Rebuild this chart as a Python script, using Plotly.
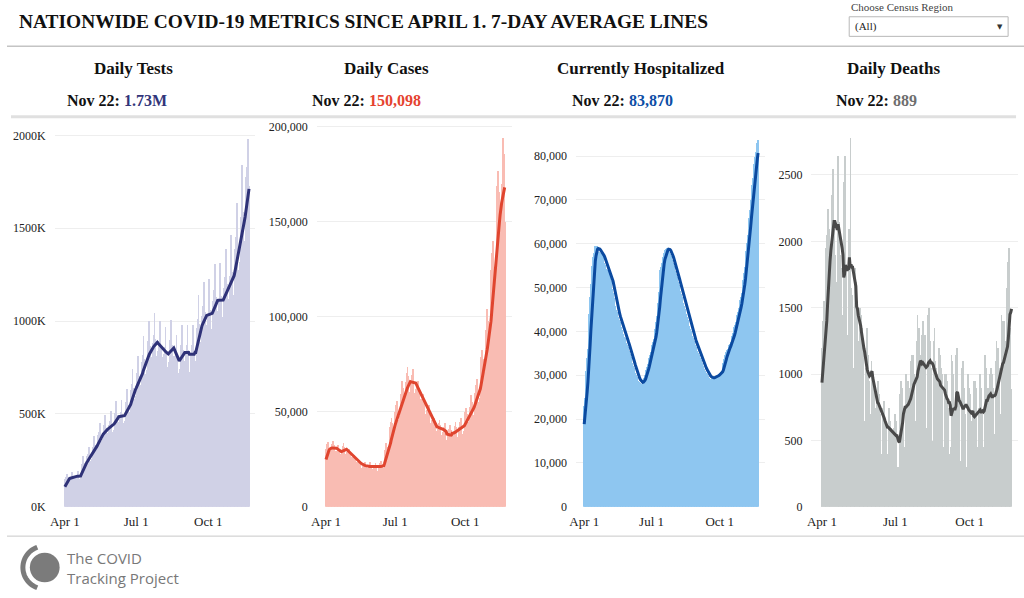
import math
import pandas as pd
import plotly.graph_objects as go

# ---------------- data (daily values) ----------------
PRE_START = "2020-03-26"   # 6 extra days so the 7-day average exists on Apr 1
START = "2020-04-01"
TICK_DATES = ["2020-04-01", "2020-07-01", "2020-10-01"]
TICK_LABELS = ["Apr 1", "Jul 1", "Oct 1"]

# Daily tests (thousands)
tests_pre = [105, 118, 102, 88, 92, 95]
tests_apr = [152, 160, 179, 155, 134, 140, 144, 163, 171, 192, 166, 143, 150, 155,
             165, 173, 195, 168, 145, 152, 157, 233, 245, 275, 238, 205, 214, 221,
             273, 287]
tests_may = [322, 278, 240, 251, 259, 326, 342, 385, 333, 287, 300, 310,
             386, 405, 455, 394, 340, 355, 367, 419, 440, 494, 427, 369, 385, 398,
             440, 462, 519, 449, 387]
tests_jun = [405, 418, 485, 509, 572, 495, 427, 446, 461, 490, 515, 578, 500, 431,
             451, 466, 538, 565, 635, 549, 473, 495, 511, 630, 662, 743, 643, 554,
             580, 599]
tests_jul = [690, 725, 814, 704, 607, 635, 656, 780, 819, 920, 796, 686, 718, 741,
             850, 893, 1003, 867, 748, 782, 808, 885, 929, 1044, 903, 779, 814, 841,
             850, 893, 1003]
tests_aug = [867, 748, 782, 808, 823, 864, 971, 839, 724, 757, 782, 855, 898, 1009,
             872, 752, 787, 812, 785, 824, 926, 801, 691, 722, 746, 830, 872, 979,
             847, 730, 764]
tests_sep = [789, 830, 872, 979, 847, 730, 700, 789, 830, 872, 979, 847, 730, 764,
             789, 966, 1014, 1140, 985, 850, 889, 918, 1030, 1082, 1215, 1051, 906,
             948, 979, 1041]
tests_oct = [1093, 1228, 1062, 916, 958, 989, 1111, 1167, 1311, 1133, 978, 1022,
             1055, 1113, 1169, 1313, 1135, 979, 1024, 1057, 1178, 1237, 1390, 1202,
             1037, 1084, 1119, 1244, 1306, 1468, 1269]
tests_nov = [1095, 1144, 1182, 1388, 1457, 1638, 1416, 1221, 1277, 1319, 1560, 1638,
             1841, 1591, 1373, 1435, 1482, 1780, 1830, 1984, 1740, 1729]

# Daily cases (thousands)
cases_pre = [23, 25, 24, 22, 23, 26]
cases_apr = [30.8, 33.0, 34.5, 32.3, 28.3, 27.1, 29.6, 31.0, 33.2, 34.7, 32.6, 28.5,
             27.3, 29.8, 29.0, 31.0, 32.5, 30.5, 26.7, 25.5, 27.8, 30.2, 32.3, 33.8,
             31.7, 27.8, 26.6, 29.0, 27.5, 29.4]
cases_may = [30.8, 28.9, 25.3, 24.2, 26.4, 24.5, 26.2, 27.4, 25.7, 22.5, 21.6, 23.5,
             22.3, 23.9, 25.0, 23.4, 20.5, 19.6, 21.4, 21.2, 22.7, 23.7, 22.3, 19.5,
             18.7, 20.4, 21.0, 22.5, 23.5, 22.1, 19.3]
cases_jun = [18.5, 20.2, 20.8, 22.3, 23.3, 21.8, 19.1, 18.3, 20.0, 21.5, 23.0, 24.1,
             22.6, 19.8, 18.9, 20.6, 30.0, 32.1, 33.6, 31.5, 27.6, 26.4, 28.8, 42.0,
             44.9, 47.0, 44.1, 38.6, 37.0, 40.3]
cases_jul = [50.0, 53.5, 56.0, 52.5, 46.0, 44.0, 48.0, 59.5, 63.7, 66.6, 62.5, 54.7,
             52.4, 57.1, 65.8, 70.4, 73.7, 69.1, 60.5, 57.9, 63.2, 65.0, 69.6, 72.8,
             68.3, 59.8, 57.2, 62.4, 59.5, 63.7, 66.6]
cases_aug = [62.5, 54.7, 52.4, 57.1, 53.2, 56.9, 59.6, 55.9, 48.9, 46.8, 51.1, 48.0,
             51.4, 53.8, 50.4, 44.2, 42.2, 46.1, 42.0, 44.9, 47.0, 44.1, 38.6, 37.0,
             40.3, 41.2, 44.1, 46.1, 43.3, 37.9, 36.3]
cases_sep = [39.6, 38.0, 42.0, 44.5, 41.0, 35.5, 27.0, 38.0, 38.5, 41.2, 43.1, 40.4,
             35.4, 33.9, 37.0, 40.1, 42.9, 44.9, 42.1, 36.9, 35.3, 38.5, 42.0, 44.9,
             47.0, 44.1, 38.6, 37.0, 40.3, 46.5]
cases_oct = [49.8, 52.1, 48.8, 42.8, 40.9, 44.6, 52.5, 56.2, 58.8, 55.1, 48.3, 46.2,
             50.4, 60.0, 64.2, 67.2, 63.0, 55.2, 52.8, 57.6, 74.0, 79.2, 82.9, 77.7,
             68.1, 65.1, 71.0, 93.0, 99.5, 104.2, 97.7]
cases_nov = [85.6, 81.8, 89.3, 125.0, 133.8, 140.0, 131.3, 115.0, 110.0, 120.0, 158.0,
             169.1, 177.0, 165.9, 145.4, 139.0, 151.7, 170.0, 185.0, 194.0, 186.0,
             150.098]

# Currently hospitalized (thousands)
hosp_pre = [14, 16, 17, 19, 21, 22]
hosp_apr = [23, 25, 28, 31, 34, 36, 38, 44, 48, 51, 53, 55, 57, 58, 59, 59.5, 59.5,
            59.5, 58.6, 58.3, 58.2, 58.1, 58.0, 57.9, 57.7, 57.1, 56.5, 55.8, 55.2,
            54.5]
hosp_may = [54.3, 54.1, 53.9, 53.6, 53.4, 52.5, 51.6, 50.6, 49.7, 48.8, 47.8, 46.9,
            46.0, 45.1, 44.5, 43.9, 43.4, 42.8, 42.2, 41.6, 41.0, 40.5, 39.9, 39.4,
            38.9, 38.5, 38.0, 37.5, 37.0, 36.6, 36.1]
hosp_jun = [35.6, 35.0, 34.3, 33.6, 33.0, 32.3, 31.7, 31.2, 30.7, 30.2, 29.7, 29.2,
            28.7, 28.5, 28.4, 28.3, 28.2, 28.1, 28.5, 29.0, 29.5, 30.1, 30.6, 31.3,
            32.0, 32.7, 33.4, 34.1, 34.8, 35.4]
hosp_jul = [36.2, 36.9, 37.7, 38.4, 39.2, 40.7, 42.2, 43.6, 45.1, 46.6, 49.1, 51.6,
            54.1, 54.9, 55.6, 56.4, 57.1, 57.9, 58.6, 58.8, 58.9, 59.1, 59.2, 58.7,
            58.2, 57.8, 57.3, 56.8, 56.3, 55.7, 55.1]
hosp_aug = [54.4, 53.8, 53.2, 52.6, 51.9, 51.3, 50.6, 49.9, 49.3, 48.6, 47.9, 47.3,
            46.6, 45.9, 45.3, 44.6, 44.0, 43.3, 42.7, 42.0, 41.4, 40.7, 40.2, 39.6,
            39.1, 38.5, 38.0, 37.4, 36.9, 36.5, 36.1]
hosp_sep = [35.7, 35.2, 34.8, 34.4, 34.0, 33.5, 33.0, 32.5, 32.1, 31.6, 31.1, 30.8,
            30.6, 30.3, 30.0, 29.8, 29.5, 29.3, 29.3, 29.4, 29.4, 29.5, 29.5, 29.6,
            29.7, 29.8, 29.9, 30.0, 30.2, 30.4]
hosp_oct = [30.5, 30.7, 30.8, 31.0, 31.9, 32.8, 33.8, 34.7, 35.1, 35.5, 35.8, 36.2,
            36.6, 37.0, 37.3, 37.7, 38.4, 39.0, 39.7, 40.3, 41.0, 41.6, 42.3, 42.9,
            43.8, 44.6, 45.5, 46.3, 47.2, 48.0, 48.9]
hosp_nov = [50.4, 51.9, 53.4, 54.9, 56.7, 58.5, 60.2, 62.0, 63.8, 65.9, 67.9, 70.0,
            72.0, 73.6, 75.2, 76.8, 78.3, 79.9, 81.0, 82.0, 83.0, 83.87]

# Daily deaths
deaths_pre = [700, 900, 950, 850, 900, 1100]
deaths_apr = [1150, 1200, 1400, 1550, 1250, 1300, 1950, 2050, 2250, 2100, 2050, 1800,
              1750, 2350, 2550, 2450, 2100, 1900, 1550, 1700, 2650, 2300, 2150, 1900,
              1800, 1150, 1350, 1450, 2450, 2650]
deaths_may = [1800, 1600, 1250, 1300, 2100, 1950, 2780, 1650, 1600, 1000, 1050, 1750,
              1800, 1700, 1550, 1250, 850, 900, 1500, 1450, 1350, 1250, 1050, 650, 550,
              1050, 1350, 1200, 1150, 950, 700]
deaths_jun = [700, 1100, 1000, 950, 900, 750, 500, 550, 850, 950, 850, 800, 700, 400,
              400, 750, 800, 700, 650, 600, 300, 400, 700, 750, 650, 600, 550, 300, 350,
              600]
deaths_jul = [700, 650, 600, 300, 250, 300, 850, 900, 950, 900, 750, 450, 450, 850,
              1000, 950, 950, 900, 500, 550, 1100, 1150, 1100, 1150, 1000, 550, 650,
              1250, 1450, 1300, 1350]
deaths_aug = [1150, 500, 550, 1300, 1400, 1250, 1300, 1050, 550, 600, 1450, 1500, 1250,
              1200, 1050, 500, 500, 1250, 1350, 1100, 1050, 1000, 450, 450, 1200, 1150,
              1050, 1000, 900, 400, 450]
deaths_sep = [1000, 950, 1000, 950, 750, 400, 300, 450, 1150, 1100, 1000, 750, 400,
              450, 1150, 1200, 850, 800, 700, 300, 350, 1050, 1100, 950, 900, 700, 300,
              300, 950, 1000]
deaths_oct = [900, 850, 650, 350, 350, 700, 950, 950, 900, 650, 450, 400, 750, 1000,
              850, 900, 700, 400, 450, 950, 1150, 1050, 900, 900, 450, 500, 1000, 1050,
              950, 1000, 900]
deaths_nov = [450, 550, 1100, 1250, 1150, 1200, 1050, 600, 700, 1450, 1400, 1200, 1400,
              1250, 700, 850, 1650, 1850, 1950, 1900, 1350, 889]

panel_titles = ["Daily Tests", "Daily Cases", "Currently Hospitalized", "Daily Deaths"]
chart_title = "NATIONWIDE COVID-19 METRICS SINCE APRIL 1. 7-DAY AVERAGE LINES"


def build(pre, months, scale):
    vals = list(pre)
    for m in months:
        vals += m
    idx = pd.date_range(PRE_START, periods=len(vals), freq="D")
    s = pd.Series(vals, index=idx, dtype=float) * scale
    avg = s.rolling(7).mean()
    return s[START:], avg[START:]


tests, tests_avg = build(tests_pre, [tests_apr, tests_may, tests_jun, tests_jul,
                                     tests_aug, tests_sep, tests_oct, tests_nov], 1000)
cases, cases_avg = build(cases_pre, [cases_apr, cases_may, cases_jun, cases_jul,
                                     cases_aug, cases_sep, cases_oct, cases_nov], 1000)
hosp, hosp_avg = build(hosp_pre, [hosp_apr, hosp_may, hosp_jun, hosp_jul,
                                  hosp_aug, hosp_sep, hosp_oct, hosp_nov], 1000)
deaths, deaths_avg = build(deaths_pre, [deaths_apr, deaths_may, deaths_jun, deaths_jul,
                                        deaths_aug, deaths_sep, deaths_oct, deaths_nov], 1)

latest_labels = [
    f"{tests.iloc[-1] / 1e6:.2f}M",
    f"{round(cases.iloc[-1]):,}",
    f"{round(hosp.iloc[-1]):,}",
    f"{round(deaths.iloc[-1]):,}",
]
last_date = tests.index[-1]
last_date_label = f"{last_date:%b} {last_date.day}"

# ---------------- styling / layout ----------------
W, H = 1024, 598
SERIF = "Liberation Serif, Times New Roman, serif"


def fx(px):
    return px / W


def fy(py):
    return 1 - py / H


panels = [
    dict(data=(tests, tests_avg), bar="#d0d1e6", line="#2f3278", val="#32357a",
         dom=(48, 250), xr=("2020-03-19", "2020-11-30"), yr=2058000,
         tickvals=[0, 500000, 1000000, 1500000, 2000000], fmt="K",
         tcx=127, scx=111),
    dict(data=(cases, cases_avg), bar="#f9bcb3", line="#e0452f", val="#e5432f",
         dom=(312, 508), xr=("2020-03-20", "2020-12-01"), yr=201000,
         tickvals=[0, 50000, 100000, 150000, 200000], fmt=",d",
         tcx=382, scx=362),
    dict(data=(hosp, hosp_avg), bar="#8ec6f0", line="#0b4aa0", val="#0d4ea6",
         dom=(573, 763), xr=("2020-03-21", "2020-12-01"), yr=87200,
         tickvals=list(range(0, 80001, 10000)), fmt=",d",
         tcx=638, scx=620),
    dict(data=(deaths, deaths_avg), bar="#c8cdcd", line="#494949", val="#6e6e6e",
         dom=(810, 1018), xr=("2020-03-19", "2020-11-30"), yr=2880,
         tickvals=[0, 500, 1000, 1500, 2000, 2500], fmt="d",
         tcx=893, scx=875),
]

fig = go.Figure()
layout = dict(
    autosize=True, margin=dict(l=0, r=0, t=0, b=0),
    paper_bgcolor="white", plot_bgcolor="white",
    showlegend=False, bargap=0, barmode="overlay",
    font=dict(family=SERIF, color="#333", size=12),
)
annotations = []
Y0, Y1 = fy(512), fy(122)

for i, p in enumerate(panels):
    n = "" if i == 0 else str(i + 1)
    xa, ya = "x" + n, "y" + n
    daily, avg = p["data"]
    fig.add_trace(go.Bar(x=daily.index, y=daily.values, marker=dict(color=p["bar"], line=dict(width=0)),
                         xaxis=xa, yaxis=ya, hoverinfo="x+y"))
    fig.add_trace(go.Scatter(x=avg.index, y=avg.values, mode="lines",
                             line=dict(color=p["line"], width=3),
                             xaxis=xa, yaxis=ya, hoverinfo="x+y"))
    if p["fmt"] == "K":
        ytick = dict(tickvals=p["tickvals"], ticktext=[f"{v // 1000}K" for v in p["tickvals"]])
    else:
        ytick = dict(tickvals=p["tickvals"], tickformat=p["fmt"])
    layout["xaxis" + n] = dict(
        domain=[fx(p["dom"][0]), fx(p["dom"][1])], anchor=ya,
        range=list(p["xr"]), type="date",
        tickvals=TICK_DATES, ticktext=TICK_LABELS,
        showgrid=False, zeroline=False, showline=False,
        ticks="", ticklabelstandoff=5,
        tickfont=dict(family=SERIF, size=13, color="#222"),
    )
    layout["yaxis" + n] = dict(
        domain=[Y0, Y1], anchor=xa, range=[0, p["yr"]],
        showgrid=True, gridcolor="#eeeeee", gridwidth=1,
        zeroline=False, showline=False, ticks="",
        ticklabelstandoff=8,
        tickfont=dict(family=SERIF, size=12, color="#222"),
        **ytick,
    )
    annotations.append(dict(
        text=f"<b>{panel_titles[i]}</b>", x=fx(p["tcx"]), y=fy(65),
        xref="paper", yref="paper", xanchor="center", yanchor="middle",
        showarrow=False, font=dict(family=SERIF, size=17, color="#111")))
    annotations.append(dict(
        text=f"<b>{last_date_label}: <span style='color:{p['val']}'>{latest_labels[i]}</span></b>",
        x=fx(p["scx"]), y=fy(97), xref="paper", yref="paper",
        xanchor="center", yanchor="middle", showarrow=False,
        font=dict(family=SERIF, size=16, color="#111")))

# Title, dropdown look-alike and logo text
annotations += [
    dict(text=f"<b>{chart_title}</b>", x=fx(10), y=fy(17), xref="paper", yref="paper",
         xanchor="left", yanchor="middle", showarrow=False,
         font=dict(family=SERIF, size=19.4, color="#111")),
    dict(text="Choose Census Region", x=fx(848), y=fy(2), xref="paper", yref="paper",
         xanchor="left", yanchor="middle", showarrow=False,
         font=dict(family=SERIF, size=11, color="#444")),
    dict(text="(All)", x=fx(852), y=fy(22), xref="paper", yref="paper",
         xanchor="left", yanchor="middle", showarrow=False,
         font=dict(family=SERIF, size=11, color="#222")),
    dict(text="▼", x=fx(1000), y=fy(22), xref="paper", yref="paper",
         xanchor="center", yanchor="middle", showarrow=False,
         font=dict(family="DejaVu Sans", size=7, color="#333")),
    dict(text="The COVID<br>Tracking Project", x=fx(58), y=fy(575), xref="paper", yref="paper",
         xanchor="left", yanchor="middle", align="left", showarrow=False,
         font=dict(family="Open Sans", size=15, color="#787878")),
]

# logo arc
cx, cy, r = 38, 574, 22
pts = []
for k in range(0, 29):
    th = math.radians(110 + 5 * k)
    pts.append((fx(cx + r * math.cos(th)), fy(cy - r * math.sin(th))))
arc_path = "M " + " L ".join(f"{a:.5f},{b:.5f}" for a, b in pts)

shapes = [
    dict(type="line", xref="paper", yref="paper", x0=0, x1=1, y0=fy(42), y1=fy(42),
         line=dict(color="#c4c4c4", width=1.5)),
    dict(type="line", xref="paper", yref="paper", x0=fx(4), x1=fx(1016), y0=fy(114), y1=fy(114),
         line=dict(color="#e0e0e0", width=3)),
    dict(type="line", xref="paper", yref="paper", x0=0, x1=1, y0=fy(542), y1=fy(542),
         line=dict(color="#c8c8c8", width=1)),
    dict(type="rect", xref="paper", yref="paper", x0=fx(848), x1=fx(1008), y0=fy(32), y1=fy(12),
         line=dict(color="#b8b8b8", width=1), fillcolor="white"),
    dict(type="circle", xref="paper", yref="paper", x0=fx(23), x1=fx(53), y0=fy(589), y1=fy(559),
         line=dict(width=0), fillcolor="#7b7b7b"),
    dict(type="path", xref="paper", yref="paper", path=arc_path,
         line=dict(color="#7b7b7b", width=5)),
]

layout["annotations"] = annotations
layout["shapes"] = shapes
fig.update_layout(**layout)

fig.write_html(
    "out.html",
    config={"displayModeBar": False, "responsive": False},
    default_width=f"{W}px;position:fixed;left:0px;top:0px;margin:0px",
    default_height=f"{H}px",
)
